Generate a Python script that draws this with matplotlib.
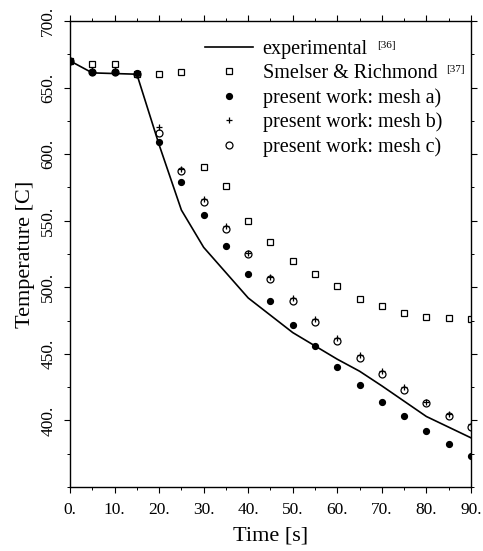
import matplotlib
matplotlib.use("Agg")
import matplotlib.pyplot as plt
from matplotlib.ticker import MultipleLocator

plt.rcParams['font.family'] = ['Liberation Serif', 'DejaVu Serif']

# experimental curve
t_exp = [0, 5, 15, 20, 25, 30, 40, 50, 55, 60, 65, 70, 80, 90]
T_exp = [670, 661, 660, 607, 558, 530, 492, 466, 456, 446, 437, 426, 403, 387]

# Smelser & Richmond
t_sr = [0, 5, 10, 15, 20, 25, 30, 35, 40, 45, 50, 55, 60, 65, 70, 75, 80, 85, 90]
T_sr = [670, 668, 668, 660, 660, 662, 590, 576, 550, 534, 520, 510, 501, 491, 486, 481, 478, 477, 476]

# present work
t_pw = [0, 5, 10, 15, 20, 25, 30, 35, 40, 45, 50, 55, 60, 65, 70, 75, 80, 85, 90]
T_a = [670, 662, 662, 661, 609, 579, 554, 531, 510, 490, 472, 456, 440, 427, 414, 403, 392, 382, 373]
T_b = [670, 663, 663, 661, 620, 589, 566, 546, 526, 508, 492, 476, 462, 449, 437, 425, 414, 405, 397]
T_c = [670, 662, 662, 660, 616, 587, 564, 544, 525, 506, 490, 474, 460, 447, 435, 423, 413, 403, 395]

labels = ['experimental', 'Smelser & Richmond', 'present work: mesh a)',
          'present work: mesh b)', 'present work: mesh c)']
refs = ['[36]', '[37]']

fig = plt.figure(figsize=(4.83, 5.51), dpi=100)
ax = fig.add_axes([0.145, 0.116, 0.83, 0.846])

ax.plot(t_exp, T_exp, color='black', lw=1.2, label=labels[0])
ax.plot(t_sr, T_sr, ls='none', marker='s', ms=5, mfc='white', mec='black', mew=0.9, label=labels[1])
ax.plot(t_pw, T_a, ls='none', marker='o', ms=4.2, color='black', label=labels[2])
ax.plot(t_pw, T_b, ls='none', marker='+', ms=5, color='black', mew=0.9, label=labels[3])
ax.plot(t_pw, T_c, ls='none', marker='o', ms=5, mfc='none', mec='black', mew=0.9, label=labels[4])

ax.set_xlim(0, 90)
ax.set_ylim(350, 700)
ax.xaxis.set_minor_locator(MultipleLocator(5))
ax.yaxis.set_minor_locator(MultipleLocator(25))
ax.set_xticks(range(0, 91, 10))
ax.set_xticklabels([f'{v}.' for v in range(0, 91, 10)], fontsize=12.5)
ax.set_yticks(range(400, 701, 50))
ax.set_yticklabels([f'{v}.' for v in range(400, 701, 50)], fontsize=12.5, rotation=90, va='center')
ax.tick_params(direction='out', top=True, right=True, length=4, width=0.8)
ax.tick_params(axis='x', pad=7)
ax.tick_params(axis='y', pad=6)
ax.tick_params(which='minor', direction='out', top=True, right=True, length=2.5, width=0.7)
for s in ax.spines.values():
    s.set_linewidth(1.0)

ax.set_xlabel('Time [s]', fontsize=16, labelpad=6)
ax.set_ylabel('Temperature [C]', fontsize=16, labelpad=4)

leg = ax.legend(loc='upper left', bbox_to_anchor=(0.337, 0.96), frameon=False, fontsize=14.5,
                handlelength=2.4, handletextpad=0.45, labelspacing=0.25, borderpad=0, borderaxespad=0)

# small reference superscripts after the first two legend labels
fig.canvas.draw()
inv = fig.transFigure.inverted()
for txt, ref in zip(leg.get_texts()[:2], refs):
    bb = txt.get_window_extent()
    x, y = inv.transform((bb.x1 + 9, bb.y1 - 1))
    fig.text(x, y, ref, fontsize=8, va='top', ha='left')

fig.savefig('out.png', dpi=100)
